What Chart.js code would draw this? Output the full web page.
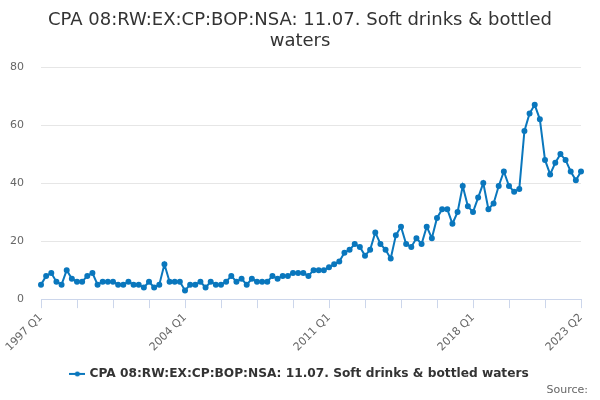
<!DOCTYPE html>
<html>
<head>
<meta charset="utf-8">
<script src="https://cdn.jsdelivr.net/npm/chart.js@4"></script>
<style>
  html, body { margin: 0; padding: 0; background: #fff; }
  .chart-container { width: 600px; height: 400px; }
</style>
</head>
<body>
<div class="chart-container"><canvas id="chart"></canvas></div>
<script>
// quarters 1997 Q1 .. 2023 Q2
const firstYear = 1997;
const quarters = [];
for (let y = firstYear; y <= 2023; y++) {
  for (let q = 1; q <= 4; q++) {
    if (y === 2023 && q > 2) break;
    quarters.push(y + ' Q' + q);
  }
}

const seriesName = 'CPA 08:RW:EX:CP:BOP:NSA: 11.07. Soft drinks & bottled waters';
const values = [
  5, 8, 9, 6, 5, 10, 7, 6, 6, 8,
  9, 5, 6, 6, 6, 5, 5, 6, 5, 5,
  4, 6, 4, 5, 12, 6, 6, 6, 3, 5,
  5, 6, 4, 6, 5, 5, 6, 8, 6, 7,
  5, 7, 6, 6, 6, 8, 7, 8, 8, 9,
  9, 9, 8, 10, 10, 10, 11, 12, 13, 16,
  17, 19, 18, 15, 17, 23, 19, 17, 14, 22,
  25, 19, 18, 21, 19, 25, 21, 28, 31, 31,
  26, 30, 39, 32, 30, 35, 40, 31, 33, 39,
  44, 39, 37, 38, 58, 64, 67, 62, 48, 43,
  47, 50, 48, 44, 41, 44
];
const shownLabels = ['1997 Q1', '2004 Q1', '2011 Q1', '2018 Q1', '2023 Q2'];
const yTicks = [0, 20, 40, 60, 80];

const lineColor = '#0a77bd';
const font = '"DejaVu Sans", sans-serif';

// legend symbol: short line with a dot
const sym = document.createElement('canvas');
sym.width = 16; sym.height = 6;
const sc = sym.getContext('2d');
sc.strokeStyle = lineColor; sc.lineWidth = 2;
sc.beginPath(); sc.moveTo(0, 3); sc.lineTo(16, 3); sc.stroke();
sc.fillStyle = lineColor;
sc.beginPath(); sc.arc(8, 3, 2.5, 0, Math.PI * 2); sc.fill();

// "Source:" credit in the bottom right corner
const sourceText = {
  id: 'sourceText',
  afterDraw(chart) {
    const c = chart.ctx;
    c.save();
    c.font = '11px ' + font;
    c.fillStyle = '#666666';
    c.textAlign = 'right';
    c.textBaseline = 'middle';
    c.fillText('Source:', 588, 390);
    c.restore();
  }
};

const ctx = document.getElementById('chart').getContext('2d');
new Chart(ctx, {
  type: 'line',
  data: {
    labels: quarters,
    datasets: [{
      label: seriesName,
      data: values,
      borderColor: lineColor,
      backgroundColor: lineColor,
      borderWidth: 2,
      pointRadius: 2,
      pointHoverRadius: 3,
      tension: 0
    }]
  },
  plugins: [sourceText],
  options: {
    responsive: true,
    maintainAspectRatio: false,
    animation: false,
    layout: { padding: { left: 0, right: 0, top: 8, bottom: 10 } },
    plugins: {
      title: {
        display: true,
        text: ['CPA 08:RW:EX:CP:BOP:NSA: 11.07. Soft drinks & bottled', 'waters'],
        color: '#333333',
        font: { family: font, size: 18, weight: 'normal', lineHeight: 1.17 },
        padding: { top: 2, bottom: 15 }
      },
      legend: {
        position: 'bottom',
        labels: {
          usePointStyle: true,
          pointStyle: sym,
          color: '#333333',
          font: { family: font, size: 12.2, weight: 'bold' },
          padding: 11
        }
      },
      tooltip: { enabled: false }
    },
    scales: {
      x: {
        offset: false,
        grid: {
          drawOnChartArea: false,
          tickLength: 9,
          tickColor: (c) => (c.index % 7 === 0 ? '#ccd6eb' : 'rgba(0,0,0,0)')
        },
        border: { color: '#ccd6eb', width: 1 },
        ticks: {
          autoSkip: false,
          minRotation: 45,
          maxRotation: 45,
          color: '#666666',
          font: { family: font, size: 11 },
          callback: function (v) {
            const l = this.getLabelForValue(v);
            return shownLabels.includes(l) ? l : '';
          }
        }
      },
      y: {
        min: 0,
        max: 80,
        afterBuildTicks: (s) => { s.ticks = yTicks.map(v => ({ value: v })); },
        afterFit: (s) => { s.width = 41; },
        grid: { color: '#e6e6e6', drawTicks: false },
        border: { display: false },
        ticks: {
          padding: 17,
          color: '#666666',
          font: { family: font, size: 11 }
        }
      },
      // empty right-hand spacer so the legend stays centred on the page
      spacer: {
        position: 'right',
        min: 0,
        max: 80,
        afterFit: (s) => { s.width = 19; },
        grid: { display: false },
        border: { display: false },
        ticks: { display: false }
      }
    }
  }
});
</script>
</body>
</html>
